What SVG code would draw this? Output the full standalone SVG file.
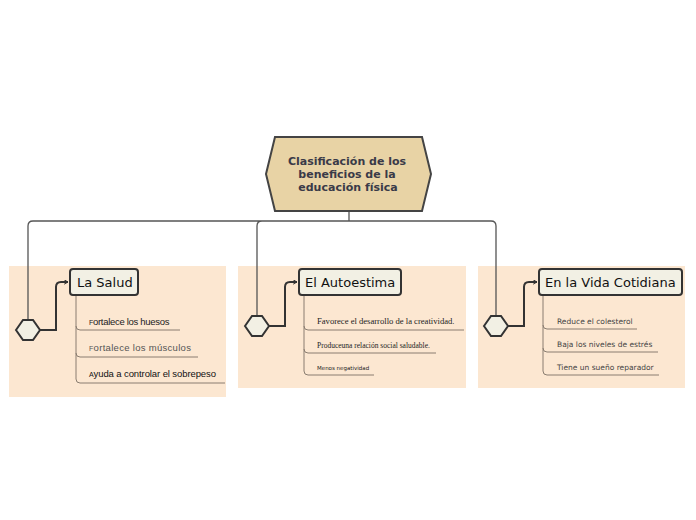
<svg xmlns="http://www.w3.org/2000/svg" width="696" height="520" viewBox="0 0 696 520">
<defs>
<marker id="ah" viewBox="0 0 10 10" refX="8" refY="5" markerWidth="5" markerHeight="5" orient="auto" markerUnits="userSpaceOnUse">
<path d="M1,1 L8,5 L1,9" fill="none" stroke="#333" stroke-width="2" stroke-linecap="round" stroke-linejoin="round"/>
</marker>
<style>
.panel{fill:#fce7d1}
.hex{fill:#f2f0e4;stroke:#333;stroke-width:2}
.box{fill:#f2f0e4;stroke:#333;stroke-width:2}
.main{fill:none;stroke:#555;stroke-width:1.3}
.arr{fill:none;stroke:#333;stroke-width:2}
.sub{fill:none;stroke:#8a7d70;stroke-width:1}
.t{font-family:"DejaVu Sans","Liberation Sans",sans-serif;fill:#111;font-size:13px}
.c{font-family:"DejaVu Sans","Liberation Sans",sans-serif;font-weight:bold;font-size:11px;fill:#3a3a48}
.s{font-family:"Liberation Sans","DejaVu Sans",sans-serif}
.sr{font-family:"Liberation Serif","DejaVu Serif",serif;fill:#222}
.v{font-family:"DejaVu Sans","Liberation Sans",sans-serif;fill:#444}
</style>
</defs>
<rect class="panel" x="9" y="266" width="217" height="131"/>
<rect class="panel" x="238" y="266" width="228" height="122"/>
<rect class="panel" x="478" y="266" width="207" height="122"/>
<g id="connectors">
<path class="main" d="M349,211 V221 M33,221 H491 M28,320 V226 Q28,221 33,221 M257,316 V226 Q257,221 262,221 M491,221 Q496,221 496,226 V316"/>
<path class="arr" marker-end="url(#ah)" d="M40,330 H56 V287 Q56,282 61,282 H68"/>
<path class="arr" marker-end="url(#ah)" d="M269,326 H285 V287 Q285,282 290,282 H297"/>
<path class="arr" marker-end="url(#ah)" d="M508,326 H524 V287 Q524,282 529,282 H537"/>
<path class="sub" d="M76,295 V326 Q76,330 80,330 H180 M76,326 V353 Q76,357 80,357 H198 M76,353 V379 Q76,383 80,383 H225"/>
<path class="sub" d="M304,295 V326 Q304,330 308,330 H464 M304,326 V349 Q304,353 308,353 H436 M304,349 V371 Q304,375 308,375 H374"/>
<path class="sub" d="M543,295 V325 Q543,329 547,329 H637 M543,325 V348 Q543,352 547,352 H658 M543,348 V371 Q543,375 547,375 H659"/>
</g>
<g id="central">
<polygon points="266,174 275,137 422,137 431,174 422,211 275,211" fill="#e8d3a5" stroke="#444" stroke-width="2"/>
<text class="c" text-anchor="middle"><tspan x="347" y="165">Clasificación de los</tspan><tspan x="347" y="178">beneficios de la</tspan><tspan x="348" y="191">educación física</tspan></text>
</g>
<g id="hex-salud"><polygon class="hex" points="16,330 23,320 33,320 40,330 33,340 23,340"/></g>
<g id="hex-autoestima"><polygon class="hex" points="245,326 252,316 262,316 269,326 262,336 252,336"/></g>
<g id="hex-vida"><polygon class="hex" points="484,326 491,316 501,316 508,326 501,336 491,336"/></g>
<g id="la-salud">
<rect class="box" x="70" y="269" width="68" height="26" rx="3"/>
<text class="t" x="77" y="287">La Salud</text>
</g>
<g id="el-autoestima">
<rect class="box" x="299" y="269" width="102" height="26" rx="3"/>
<text class="t" x="305" y="287">El Autoestima</text>
</g>
<g id="vida-cotidiana">
<rect class="box" x="539" y="269" width="143" height="26" rx="3"/>
<text class="t" x="545" y="287">En la Vida Cotidiana</text>
</g>
<g id="s1"><text class="s" x="89" y="325" style="font-size:9.5px;fill:#222" letter-spacing="-0.3"><tspan style="font-size:7px">F</tspan>ortalece los huesos</text></g>
<g id="s2"><text class="s" x="89" y="351" style="font-size:9.5px;fill:#555" letter-spacing="0.3"><tspan style="font-size:7px">F</tspan>ortalece los músculos</text></g>
<g id="s3"><text class="s" x="89" y="377" style="font-size:9.5px;fill:#111" letter-spacing="-0.1"><tspan style="font-size:7px">A</tspan>yuda a controlar el sobrepeso</text></g>
<g id="a1"><text class="sr" x="317" y="324" style="font-size:8.6px">Favorece el desarrollo de la creatividad.</text></g>
<g id="a2"><text class="sr" x="317" y="348" style="font-size:7.5px">Produceuna relación social saludable.</text></g>
<g id="a3"><text class="v" x="317" y="370" style="font-size:5.5px;fill:#222">Menos negatividad</text></g>
<g id="v1"><text class="v" x="557" y="324" style="font-size:7.5px">Reduce el colesterol</text></g>
<g id="v2"><text class="v" x="557" y="347" style="font-size:7.5px">Baja los niveles de estrés</text></g>
<g id="v3"><text class="v" x="557" y="370" style="font-size:7.5px">Tiene un sueño reparador</text></g>
</svg>
